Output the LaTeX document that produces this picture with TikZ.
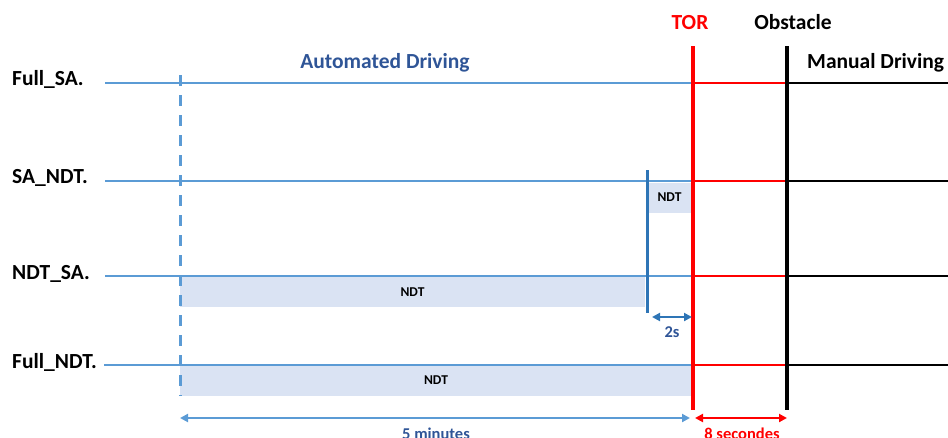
\documentclass[tikz,border=0pt]{standalone}
\usepackage{fontspec}
\setmainfont{Carlito}
\usetikzlibrary{positioning, arrows.meta}

\definecolor{lineblue}{RGB}{91,155,213}
\definecolor{darkblue}{RGB}{46,117,182}
\definecolor{textblue}{RGB}{47,85,151}
\definecolor{ndtfill}{RGB}{218,227,243}

\begin{document}
\begin{tikzpicture}[x=1pt,y=-1pt,
	rowlabel/.style={anchor=base west,inner sep=0pt,font=\fontsize{21.5}{24}\selectfont\bfseries},
	bigtext/.style={anchor=base,inner sep=0pt,font=\fontsize{21.5}{24}\selectfont\bfseries},
	smalltext/.style={anchor=base,inner sep=0pt,font=\fontsize{16.5}{18}\selectfont\bfseries},
	ndtbox/.style={fill=ndtfill,inner sep=0pt,minimum height=30pt,font=\fontsize{13.5}{15}\selectfont\bfseries},
	rowline/.style={line width=2pt},
	tip/.style={{Triangle[length=8pt,width=8pt]}-{Triangle[length=8pt,width=8pt]}}]
	\useasboundingbox (0,0) rectangle (948,437);

	% NDT periods
	\node (ndtb) at (669.5,197.5) [ndtbox,minimum width=45pt] {NDT};
	\node (ndtc) at (412.5,292) [ndtbox,minimum width=465pt] {NDT};
	\node (ndtd) at (436,380.5) [ndtbox,minimum width=512pt] {NDT};

	% rows
	\node (fullsa) at (12,85) [rowlabel] {Full\_SA.};
	\node (sandt) at (12,183) [rowlabel] {SA\_NDT.};
	\node (ndtsa) at (12,279) [rowlabel] {NDT\_SA.};
	\node (fullndt) at (12,368) [rowlabel] {Full\_NDT.};

	\coordinate (a0) at (105,83);  \coordinate (a1) at (693,83);  \coordinate (a2) at (787,83);  \coordinate (a3) at (948,83);
	\coordinate (b0) at (105,181); \coordinate (b1) at (693,181); \coordinate (b2) at (787,181); \coordinate (b3) at (948,181);
	\coordinate (c0) at (105,276); \coordinate (c1) at (693,276); \coordinate (c2) at (787,276); \coordinate (c3) at (948,276);
	\coordinate (d0) at (104,365); \coordinate (d1) at (693,365); \coordinate (d2) at (787,365); \coordinate (d3) at (948,365);
	\draw[rowline,lineblue] (a0) -- (a1);  \draw[rowline,red] (a1) -- (a2);  \draw[rowline,black] (a2) -- (a3);
	\draw[rowline,lineblue] (b0) -- (b1);  \draw[rowline,red] (b1) -- (b2);  \draw[rowline,black] (b2) -- (b3);
	\draw[rowline,lineblue] (c0) -- (c1);  \draw[rowline,red] (c1) -- (c2);  \draw[rowline,black] (c2) -- (c3);
	\draw[rowline,lineblue] (d0) -- (d1);  \draw[rowline,red] (d1) -- (d2);  \draw[rowline,black] (d2) -- (d3);

	% start, TOR and obstacle
	\coordinate (starttop) at (180,66);
	\coordinate (startbot) at (180,396);
	\draw[lineblue,line width=3pt,dash pattern=on 11pt off 9pt,dash phase=-9pt] (starttop) -- (startbot);
	\coordinate (ndtstart) at (647,170);
	\coordinate (ndtend) at (647,313);
	\draw[darkblue,line width=3pt] (ndtstart) -- (ndtend);
	\coordinate (tortop) at (693,46);
	\coordinate (torbot) at (693,410);
	\draw[red,line width=3.5pt] (tortop) -- (torbot);
	\coordinate (obstop) at (787,46);
	\coordinate (obsbot) at (787,410);
	\draw[black,line width=3.5pt] (obstop) -- (obsbot);

	\node (auto) at (385,68) [bigtext,text=textblue] {Automated Driving};
	\node (tor) at (690,29) [bigtext,text=red] {TOR};
	\node (obstacle) at (793,29) [bigtext] {Obstacle};
	\node (manual) at (807,68) [bigtext,anchor=base west] {Manual Driving};

	% durations
	\coordinate (twoa) at (652,317);  \coordinate (twob) at (692,317);
	\coordinate (fivea) at (180,418); \coordinate (fiveb) at (690,418);
	\coordinate (eighta) at (695,418); \coordinate (eightb) at (787,418);
	\path[tip,darkblue,line width=2.5pt] (twoa) edge (twob);
	\path[tip,lineblue,line width=2pt] (fivea) edge (fiveb);
	\path[tip,red,line width=2pt] (eighta) edge (eightb);
	\node (twos) at (672,337) [smalltext,text=textblue] {2s};
	\node (fivemin) at (436,439) [smalltext,text=textblue] {5 minutes};
	\node (eightsec) at (742,439) [smalltext,text=red] {8 secondes};
\end{tikzpicture}
\end{document}
